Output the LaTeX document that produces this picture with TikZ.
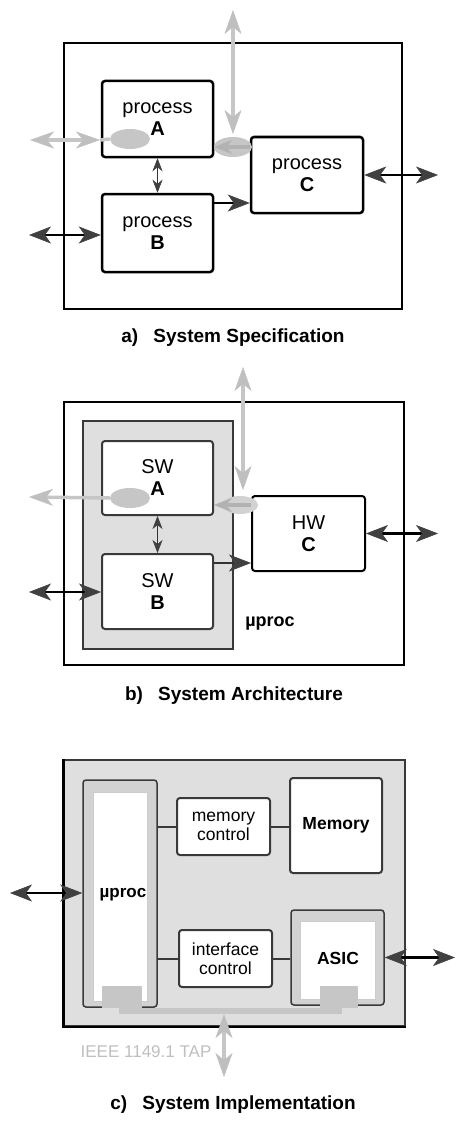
\documentclass[tikz,border=0pt]{standalone}
\usepackage{fontspec}
\setmainfont{Liberation Sans}
\usetikzlibrary{arrows.meta,shapes.geometric}
\tikzset{
 tipK/.tip={Stealth[length=22pt,width=17pt,inset=6pt,color=gray!50!black,line width=0.6pt]},
 tipS/.tip={Stealth[length=13pt,width=10pt,inset=4pt,color=gray!50!black,line width=0.5pt]},
 tipG/.tip={Stealth[length=24pt,width=17pt,inset=7pt,color=gray!50,line width=0.5pt]},
 tipGd/.tip={Stealth[length=18pt,width=14pt,inset=6pt,color=gray!60,line width=0.5pt]},
 frame/.style={draw=black, line width=2.5pt, inner sep=0pt},
 proc/.style={draw=black, line width=2.5pt, rounded corners=3pt, fill=white, inner sep=0pt, align=center, font=\fontsize{20}{22}\selectfont},
 swbox/.style={proc, draw=gray!45!black, line width=2pt},
 cbox/.style={draw=gray!45!black, line width=2pt, rounded corners=3pt, fill=white, inner sep=0pt, align=center, font=\fontsize{17.5}{19}\selectfont},
 bbox/.style={cbox, font=\bfseries\fontsize{17.5}{19}\selectfont},
 chip/.style={draw=gray!45!black, line width=1.5pt, rounded corners=3pt, fill=gray!35, inner sep=0pt},
 chipin/.style={fill=white, draw=gray!40, line width=1pt, inner sep=0pt},
 pad/.style={fill=gray!45, draw=none, inner sep=0pt},
 blob/.style={ellipse, fill=gray!45, draw=none, inner sep=0pt},
 barr/.style={black, line width=2.8pt, arrows={tipK-tipK}},
 barrone/.style={black, line width=2.8pt, arrows={-tipK}},
 sarr/.style={gray!40!black, line width=1.8pt, arrows={tipS-tipS}},
 garr/.style={gray!45, line width=3.5pt},
 conn/.style={gray!45!black, line width=2pt},
 caption/.style={font=\bfseries\fontsize{19}{22}\selectfont},
}
\begin{document}
\begin{tikzpicture}[x=1pt,y=-1pt]
\useasboundingbox (0,0) rectangle (458,1121);
% ---------------- panel a
\node[frame, minimum width=338, minimum height=266] (outA) at (233,176) {};
\node[proc, minimum width=111, minimum height=76] (pA) at (157.5,119) {process\\\textbf{A}};
\node[proc, minimum width=111, minimum height=78] (pB) at (157.5,233) {process\\\textbf{B}};
\node[proc, minimum width=112, minimum height=76] (pC) at (307,175) {process\\\textbf{C}};
\node[blob, minimum width=40, minimum height=20] (eA) at (130,139) {};
\coordinate (aL) at (30,140);
\coordinate (aLm) at (100,140);
\draw[garr] (aLm) -- (eA.west);
\draw[garr, arrows={tipG-tipG}] (aL) -- (aLm);
\coordinate (aT) at (233,10);
\coordinate (aTb) at (233,134);
\draw[garr, arrows={tipG-tipG}] (aT) -- (aTb);
\node[blob, minimum width=38, minimum height=20] (eC) at (233,147) {};
\draw[garr, gray!60, arrows={-tipGd}] (pC.west |- eC) -- (pA.east |- eC);
\draw[sarr] (pA.south) -- (pB.north);
\coordinate (bcY) at (0,203);
\draw[barrone] (pB.east |- bcY) -- (pC.west |- bcY);
\coordinate (bL) at (29,235);
\draw[barr] (bL) -- (pB.west |- bL);
\coordinate (cR) at (438,175);
\draw[barr] (pC.east) -- (cR);
\node[caption] (capA) at (233,338) {a)\hspace{0.8em}System Specification};
% ---------------- panel b
\node[frame, minimum width=340, minimum height=263] (outB) at (234,533.5) {};
\node[draw=gray!45!black, line width=2.5pt, fill=gray!25, minimum width=150, minimum height=228, inner sep=0pt] (mpB) at (158,535) {};
\node[swbox, minimum width=111, minimum height=74] (swA) at (157.5,478) {SW\\\textbf{A}};
\node[swbox, minimum width=111, minimum height=75] (swB) at (157.5,591.5) {SW\\\textbf{B}};
\node[proc, line width=2pt, minimum width=113, minimum height=75] (hwC) at (308.5,533.5) {HW\\\textbf{C}};
\node[font=\bfseries\fontsize{18}{20}\selectfont] (mpBl) at (270,624) {µproc};
\node[blob, minimum width=40, minimum height=20] (eB) at (130,498) {};
\coordinate (bgL) at (29,497);
\draw[garr, arrows={tipG-}] (bgL) -- (eB.west);
\coordinate (bT) at (243,367);
\coordinate (bTb) at (243,490);
\draw[garr, arrows={tipG-tipG}] (bT) -- (bTb);
\node[blob, minimum width=36, minimum height=18, fill=gray!35] (eHC) at (240,505) {};
\draw[garr, gray!60, arrows={-tipGd}] (hwC.west |- eHC) -- (swA.east |- eHC);
\draw[sarr] (swA.south) -- (swB.north);
\coordinate (bcYb) at (0,563);
\draw[barrone, gray!40!black] (swB.east |- bcYb) -- (hwC.west |- bcYb);
\coordinate (bLb) at (29,592);
\draw[barr] (bLb) -- (swB.west |- bLb);
\coordinate (cRb) at (438,533.5);
\draw[barr] (hwC.east) -- (cRb);
\node[caption] (capB) at (234,696) {b)\hspace{0.8em}System Architecture};
% ---------------- panel c
\node[draw=gray!45!black, line width=1.5pt, fill=gray!25, minimum width=341, minimum height=266, inner sep=0pt] (outC) at (234.5,893) {};
\draw[black, line width=2.5pt] (outC.north west) -- (outC.south west) -- (outC.south east);
\node[chip, minimum width=74, minimum height=227] (up) at (120,893.5) {};
\node[chipin, minimum width=54, minimum height=209] (upIn) at (120,896.5) {};
\node[font=\bfseries\fontsize{17}{20}\selectfont] (upL) at (123,895) {µproc};
\node[pad, minimum width=40, minimum height=22] (upPad) at (122,997) {};
\node[chip, minimum width=93, minimum height=95] (asic) at (337.5,957.5) {};
\node[chipin, minimum width=75, minimum height=78] (asicIn) at (337.5,960) {};
\node[font=\bfseries\fontsize{17.5}{20}\selectfont] (asicL) at (338,958) {ASIC};
\node[pad, minimum width=38, minimum height=22] (asicPad) at (339,997) {};
\node[cbox, minimum width=93, minimum height=57] (mc) at (223.5,826.5) {memory\\control};
\node[bbox, minimum width=92, minimum height=95] (mem) at (336,825.5) {Memory};
\node[cbox, minimum width=93, minimum height=57] (ic) at (225.5,958.5) {interface\\control};
\draw[conn] (up.east |- mc.west) -- (mc.west);
\draw[conn] (mc.east) -- (mem.west |- mc.east);
\draw[conn] (up.east |- ic.west) -- (ic.west);
\draw[conn] (ic.east) -- (asic.west |- ic.east);
\coordinate (cLc) at (10,893);
\draw[barr] (cLc) -- (up.west |- cLc);
\coordinate (cRc) at (455,957.5);
\draw[barr] (asic.east) -- (cRc);
\coordinate (tapY) at (0,1011);
\draw[gray!45, line width=6pt] (upPad.center) -- (upPad.center |- tapY) -- (asicPad.center |- tapY) -- (asicPad.center);
\coordinate (tapT) at (224,1014);
\coordinate (tapB) at (224,1077);
\draw[garr, arrows={tipG-tipG}] (tapT) -- (tapB);
\node[text=gray!50, font=\fontsize{17}{20}\selectfont] (tapL) at (146,1052) {IEEE 1149.1 TAP};
\node[caption] (capC) at (233,1105) {c)\hspace{0.8em}System Implementation};
\end{tikzpicture}
\end{document}
